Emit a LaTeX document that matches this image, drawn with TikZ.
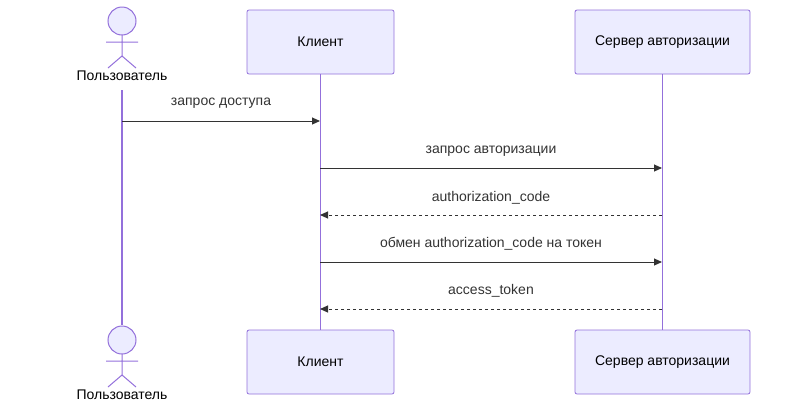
\documentclass[tikz,border=0pt]{standalone}
\usepackage{fontspec}
\setmainfont{Liberation Sans}
\usetikzlibrary{arrows.meta}
\definecolor{bfill}{HTML}{ECECFF}
\definecolor{bstroke}{HTML}{9370DB}
\definecolor{ln}{HTML}{333333}
\begin{document}
\begin{tikzpicture}[x=1pt,y=-1pt,
  box/.style={draw=bstroke,fill=bfill,line width=0.8pt,rounded corners=2pt,minimum height=64pt,font=\fontsize{14}{16}\selectfont},
  life/.style={draw=bstroke,line width=1.5pt},
  msg/.style={draw=ln,line width=1pt,-{Triangle[length=8pt,width=7pt]}},
  rep/.style={msg,dash pattern=on 3pt off 3pt},
  lab/.style={font=\fontsize{14}{16}\selectfont,text=ln},
  actor/.style={draw=bstroke,fill=bfill,line width=1pt}]
\useasboundingbox (0,0) rectangle (800,405);
% boxes
\node[box,minimum width=147pt] (c1) at (320.5,42) {Клиент};
\node[box,minimum width=175pt] (s1) at (662.5,42) {Сервер авторизации};
\node[box,minimum width=147pt] (c2) at (320.5,362) {Клиент};
\node[box,minimum width=175pt] (s2) at (662.5,362) {Сервер авторизации};
% actors
\foreach \n/\y/\ly in {a1/6/76, a2/325/395}{
  \draw[actor] (122,\y+15) circle (14);
  \draw[bstroke,line width=1pt] (122,\y+29) -- (122,\y+50)
     (106,\y+36) -- (138,\y+36)
     (122,\y+50) -- (108,\y+62) (122,\y+50) -- (136,\y+62);
  \node[lab,text=black] (\n) at (122,\ly) {Пользователь};
}
\coordinate (u1) at (122,90); \coordinate (u2) at (122,325);
% lifelines
\draw[life] (u1) -- (u2);
\draw[life] (c1.south) -- (c2.north);
\draw[life] (s1.south) -- (s2.north);
% messages
\coordinate (pu) at (122,121);
\coordinate (pc1) at (320,121);
\draw[msg] (pu) -- (pc1);
\node[lab] (m1) at (221,103) {запрос доступа};
\coordinate (c168) at (320,168); \coordinate (s168) at (662,168);
\draw[msg] (c168) -- (s168);
\node[lab] (m2) at (491,151) {запрос авторизации};
\coordinate (c215) at (320,215); \coordinate (s215) at (662,215);
\draw[rep] (s215) -- (c215);
\node[lab] (m3) at (491,198) {authorization\_code};
\coordinate (c262) at (320,262); \coordinate (s262) at (662,262);
\draw[msg] (c262) -- (s262);
\node[lab] (m4) at (491,244) {обмен authorization\_code на токен};
\coordinate (c309) at (320,309); \coordinate (s309) at (662,309);
\draw[rep] (s309) -- (c309);
\node[lab] (m5) at (491,291) {access\_token};
\end{tikzpicture}
\end{document}
